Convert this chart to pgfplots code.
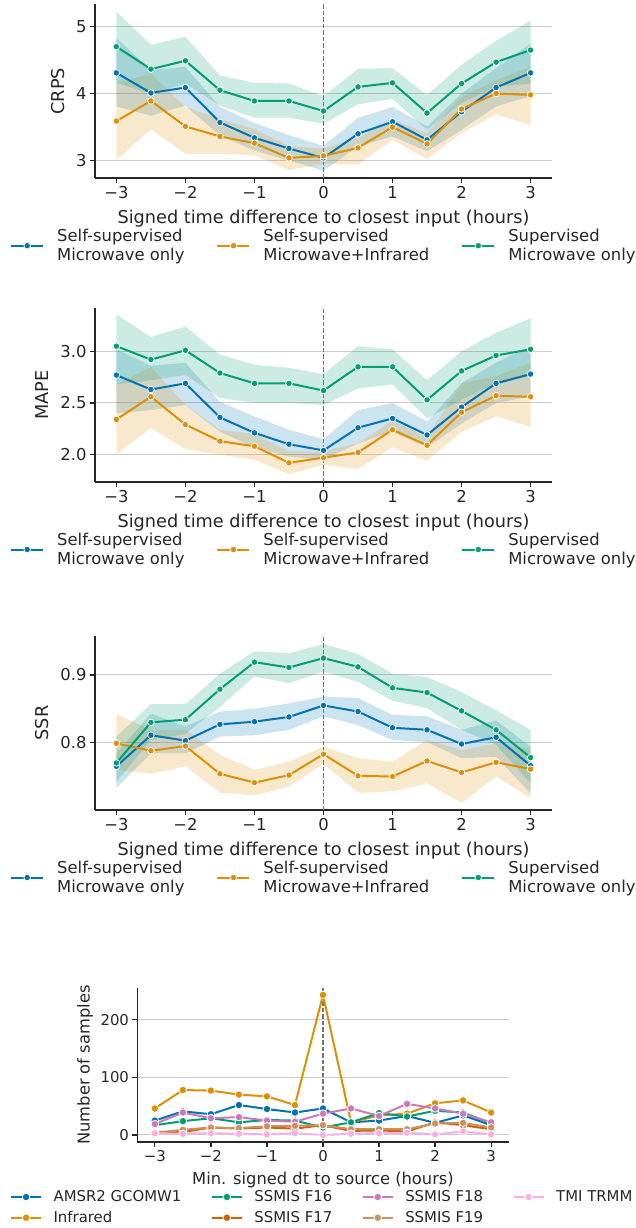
\documentclass[border=0pt]{standalone}
\usepackage{fontspec}
\setmainfont{DejaVu Sans}
\usepackage{pgfplots}
\usepackage{pgfplotstable}
\pgfplotsset{compat=1.18}
\usepgfplotslibrary{fillbetween}
\definecolor{cb}{HTML}{0173B2}
\definecolor{co}{HTML}{DE8F05}
\definecolor{cg}{HTML}{029E73}
\definecolor{cr}{HTML}{D55E00}
\definecolor{cp}{HTML}{CC78BC}
\definecolor{ct}{HTML}{CA9161}
\definecolor{ck}{HTML}{FBAFE4}
\definecolor{txt}{HTML}{262626}
\definecolor{gridc}{HTML}{CCCCCC}
\definecolor{dashc}{HTML}{737373}

\pgfplotstableread{
x b bl bh o ol oh g gl gh
-3 4.31 3.81 4.83 3.59 3.00 4.16 4.70 4.16 5.22
-2.5 4.01 3.67 4.35 3.89 3.47 4.30 4.365 4.00 4.73
-2 4.09 3.82 4.40 3.51 3.10 3.80 4.49 4.15 4.85
-1.5 3.57 3.37 3.80 3.36 3.10 3.62 4.05 3.82 4.27
-1 3.34 3.15 3.56 3.26 3.08 3.47 3.89 3.64 4.16
-0.5 3.18 3.00 3.38 3.04 2.86 3.22 3.89 3.64 4.15
0 3.04 2.85 3.22 3.07 2.95 3.18 3.74 3.55 3.96
0.5 3.40 3.21 3.64 3.19 2.94 3.34 4.10 3.84 4.37
1 3.58 3.36 3.80 3.50 3.31 3.61 4.16 3.92 4.38
1.5 3.31 3.14 3.51 3.25 3.02 3.41 3.71 3.46 3.98
2 3.73 3.46 4.00 3.77 3.41 3.95 4.15 3.86 4.43
2.5 4.09 3.81 4.38 4.00 3.69 4.20 4.47 4.10 4.79
3 4.31 3.96 4.75 3.98 3.53 4.40 4.65 4.15 5.09
}\crps

\pgfplotstableread{
x b bl bh o ol oh g gl gh
-3 2.77 2.40 3.02 2.34 2.00 2.68 3.05 2.68 3.36
-2.5 2.63 2.43 2.86 2.56 2.26 2.85 2.92 2.72 3.14
-2 2.69 2.48 2.89 2.29 2.05 2.48 3.01 2.77 3.24
-1.5 2.36 2.22 2.51 2.13 2.00 2.24 2.79 2.55 2.97
-1 2.21 2.07 2.37 2.08 1.95 2.20 2.69 2.50 2.87
-0.5 2.10 1.98 2.24 1.92 1.81 2.03 2.69 2.50 2.84
0 2.04 1.95 2.15 1.97 1.90 2.03 2.62 2.48 2.78
0.5 2.26 2.11 2.43 2.02 1.86 2.11 2.85 2.64 3.05
1 2.35 2.22 2.50 2.24 2.07 2.33 2.85 2.68 3.02
1.5 2.19 2.07 2.32 2.09 1.94 2.17 2.53 2.35 2.72
2 2.46 2.30 2.69 2.41 2.22 2.69 2.81 2.53 3.00
2.5 2.69 2.50 2.89 2.57 2.37 2.76 2.96 2.69 3.18
3 2.78 2.56 3.05 2.56 2.27 2.89 3.02 2.76 3.32
}\mape

\pgfplotstableread{
x b bl bh o ol oh g gl gh
-3 0.765 0.733 0.784 0.799 0.760 0.842 0.770 0.742 0.809
-2.5 0.811 0.784 0.843 0.788 0.754 0.819 0.830 0.804 0.857
-2 0.803 0.784 0.824 0.795 0.765 0.819 0.834 0.813 0.857
-1.5 0.827 0.809 0.846 0.754 0.726 0.782 0.879 0.853 0.902
-1 0.831 0.811 0.850 0.741 0.722 0.760 0.919 0.898 0.935
-0.5 0.838 0.819 0.858 0.752 0.735 0.772 0.911 0.888 0.932
0 0.855 0.839 0.868 0.783 0.769 0.794 0.925 0.905 0.946
0.5 0.846 0.826 0.866 0.751 0.726 0.777 0.912 0.890 0.931
1 0.822 0.804 0.841 0.750 0.728 0.772 0.881 0.862 0.902
1.5 0.819 0.801 0.839 0.773 0.740 0.804 0.874 0.851 0.897
2 0.798 0.777 0.819 0.756 0.711 0.789 0.847 0.819 0.875
2.5 0.808 0.779 0.833 0.771 0.750 0.799 0.819 0.797 0.848
3 0.766 0.725 0.794 0.761 0.718 0.790 0.778 0.740 0.819
}\ssr

\pgfplotstableread{
x amsr ir f16 f17 f18 f19 tmi
-3 25 46 17 4 19 4 3
-2.5 41 78 24 5 39 9 2
-2 36 77 29 13 29 13 3
-1.5 52 70 22 11 31 12 2
-1 45 67 26 13 25 15 1
-0.5 39 52 25 11 23 16 3
0 46 243 13 17 37 17 0
0.5 22 22 22 7 46 10 2
1 25 34 38 8 33 10 3
1.5 33 37 32 6 54 10 4
2 21 55 42 22 46 20 1
2.5 34 60 39 17 37 21 6
3 17 39 20 10 22 13 1
}\samples

\pgfplotsset{
  sb/.style={
    scale only axis, axis lines*=left,
    axis line style={draw=txt, line width=1.25pt},
    tick style={draw=txt, line width=1.25pt},
    tick align=outside, major tick length=5pt,
    xmin=-3.31, xmax=3.31,
    xtick={-3,...,3}, xticklabels={−3,−2,−1,0,1,2,3},
    ymajorgrids, grid style={draw=gridc, line width=1pt},
    every tick label/.append style={text=txt},
    label style={text=txt},
    legend style={draw=none, fill=none, inner sep=0pt, text=txt,
      nodes={inner sep=0pt, align=left, anchor=west}},
    legend image code/.code={\draw[mark repeat=2,mark phase=2,##1] plot coordinates {(0pt,0pt)(16pt,0pt)(32pt,0pt)};},
  },
  panel/.style={sb, width=457pt, height=173.5pt,
    tick label style={font=\fontsize{16.4}{19}\selectfont},
    label style={font=\fontsize{17.7}{21}\selectfont},
    xlabel={Signed time difference to closest input (hours)},
    xlabel style={at={(axis description cs:0.5,-0.262)}, anchor=base},
    legend columns=3,
    legend style={at={(axis description cs:-0.186,-0.295)}, anchor=north west,
      font=\fontsize{16.4}{18.7}\selectfont,
      /tikz/every odd column/.append style={column sep=13pt},
      /tikz/every even column/.append style={column sep=32pt}},
  },
  ln/.style={color=#1, line width=2pt, mark=*, mark size=3.3pt, mark options={draw=white, line width=0.8pt, solid}},
  lnf/.style={color=#1, line width=2pt, mark=*, mark size=3.8pt, mark options={draw=white, line width=0.8pt, solid}},
}

\newcommand\bandsplot[1]{%
  \addplot[name path=bl, draw=none, forget plot] table[x=x,y=bl]{#1};
  \addplot[name path=bh, draw=none, forget plot] table[x=x,y=bh]{#1};
  \addplot[cb, fill opacity=0.2, draw=none, forget plot] fill between[of=bl and bh];
  \addplot[name path=ol, draw=none, forget plot] table[x=x,y=ol]{#1};
  \addplot[name path=oh, draw=none, forget plot] table[x=x,y=oh]{#1};
  \addplot[co, fill opacity=0.2, draw=none, forget plot] fill between[of=ol and oh];
  \addplot[name path=gl, draw=none, forget plot] table[x=x,y=gl]{#1};
  \addplot[name path=gh, draw=none, forget plot] table[x=x,y=gh]{#1};
  \addplot[cg, fill opacity=0.2, draw=none, forget plot] fill between[of=gl and gh];
}
\newcommand\linesplot[1]{%
  \addplot[ln=cb] table[x=x,y=b]{#1};
  \addlegendentry{Self-supervised\\Microwave only}
  \addplot[ln=co] table[x=x,y=o]{#1};
  \addlegendentry{Self-supervised\\Microwave+Infrared}
  \addplot[ln=cg] table[x=x,y=g]{#1};
  \addlegendentry{Supervised\\Microwave only}
}

\begin{document}
\begin{tikzpicture}

% Panel 1: CRPS
\begin{axis}[panel, at={(95pt,-178pt)}, anchor=south west,
  ymin=2.74, ymax=5.33, ytick={3,4,5}, yticklabels={3,4,5},
  ylabel={CRPS}, ylabel style={at={(axis description cs:-0.081,0.5)}, anchor=center}]
  \bandsplot{\crps}
  \addplot[dashc, line width=1.1pt, dash pattern=on 4.5pt off 2pt, forget plot] coordinates {(0,2.74) (0,5.33)};
  \linesplot{\crps}
\end{axis}

% Panel 2: MAPE
\begin{axis}[panel, at={(95pt,-482pt)}, anchor=south west, height=174pt,
  ymin=1.734, ymax=3.42, ytick={2,2.5,3}, yticklabels={2.0,2.5,3.0},
  ylabel={MAPE}, ylabel style={at={(axis description cs:-0.116,0.5)}, anchor=center},
  xlabel style={at={(axis description cs:0.5,-0.260)}},
  legend style={at={(axis description cs:-0.186,-0.293)}}]
  \bandsplot{\mape}
  \addplot[dashc, line width=1.1pt, dash pattern=on 4.5pt off 2pt, forget plot] coordinates {(0,1.734) (0,3.42)};
  \linesplot{\mape}
\end{axis}

% Panel 3: SSR
\begin{axis}[panel, at={(95pt,-810pt)}, anchor=south west, height=174pt,
  ymin=0.7005, ymax=0.9576, ytick={0.8,0.9}, yticklabels={0.8,0.9},
  ylabel={SSR}, ylabel style={at={(axis description cs:-0.116,0.5)}, anchor=center},
  xlabel style={at={(axis description cs:0.5,-0.260)}},
  legend style={at={(axis description cs:-0.186,-0.293)}}]
  \bandsplot{\ssr}
  \addplot[dashc, line width=1.1pt, dash pattern=on 4.5pt off 2pt, forget plot] coordinates {(0,0.7005) (0,0.9576)};
  \linesplot{\ssr}
\end{axis}

% Panel 4: samples
\begin{axis}[sb, at={(137.5pt,-1142pt)}, anchor=south west, width=371pt, height=154pt,
  ymin=-12.2, ymax=255, ytick={0,100,200}, yticklabels={0,100,200},
  tick label style={font=\fontsize{14.9}{18}\selectfont},
  label style={font=\fontsize{16.3}{19}\selectfont},
  xlabel={Min. signed dt to source (hours)},
  xlabel style={at={(axis description cs:0.5,-0.279)}, anchor=base},
  ylabel={Number of samples}, ylabel style={at={(axis description cs:-0.1415,0.5)}, anchor=center},
  legend columns=4,
  legend style={at={(axis description cs:-0.344,-0.315)}, anchor=north west,
    font=\fontsize{14.9}{18}\selectfont, row sep=8pt,
    /tikz/every odd column/.append style={column sep=11.5pt},
    /tikz/every even column/.append style={column sep=29.5pt}},
  legend image code/.code={\draw[mark repeat=2,mark phase=2,#1] plot coordinates {(0pt,0pt)(15pt,0pt)(30pt,0pt)};}]
  \addlegendimage{lnf=cb}\addlegendentry{AMSR2 GCOMW1}
  \addlegendimage{lnf=cg}\addlegendentry{SSMIS F16}
  \addlegendimage{lnf=cp}\addlegendentry{SSMIS F18}
  \addlegendimage{lnf=ck}\addlegendentry{TMI TRMM}
  \addlegendimage{lnf=co}\addlegendentry{Infrared}
  \addlegendimage{lnf=cr}\addlegendentry{SSMIS F17}
  \addlegendimage{lnf=ct}\addlegendentry{SSMIS F19}
  \addplot[dashc, line width=1.1pt, dash pattern=on 4.5pt off 2pt, forget plot] coordinates {(0,-12.2) (0,255)};
  \addplot[lnf=cb, forget plot] table[x=x,y=amsr]{\samples};
  \addplot[lnf=co, forget plot] table[x=x,y=ir]{\samples};
  \addplot[lnf=cg, forget plot] table[x=x,y=f16]{\samples};
  \addplot[lnf=cr, forget plot] table[x=x,y=f17]{\samples};
  \addplot[lnf=cp, forget plot] table[x=x,y=f18]{\samples};
  \addplot[lnf=ct, forget plot] table[x=x,y=f19]{\samples};
  \addplot[lnf=ck, forget plot] table[x=x,y=tmi]{\samples};
\end{axis}
\pgfresetboundingbox
\path[use as bounding box] (0pt,0pt) rectangle (636pt,-1228pt);
\end{tikzpicture}
\end{document}
